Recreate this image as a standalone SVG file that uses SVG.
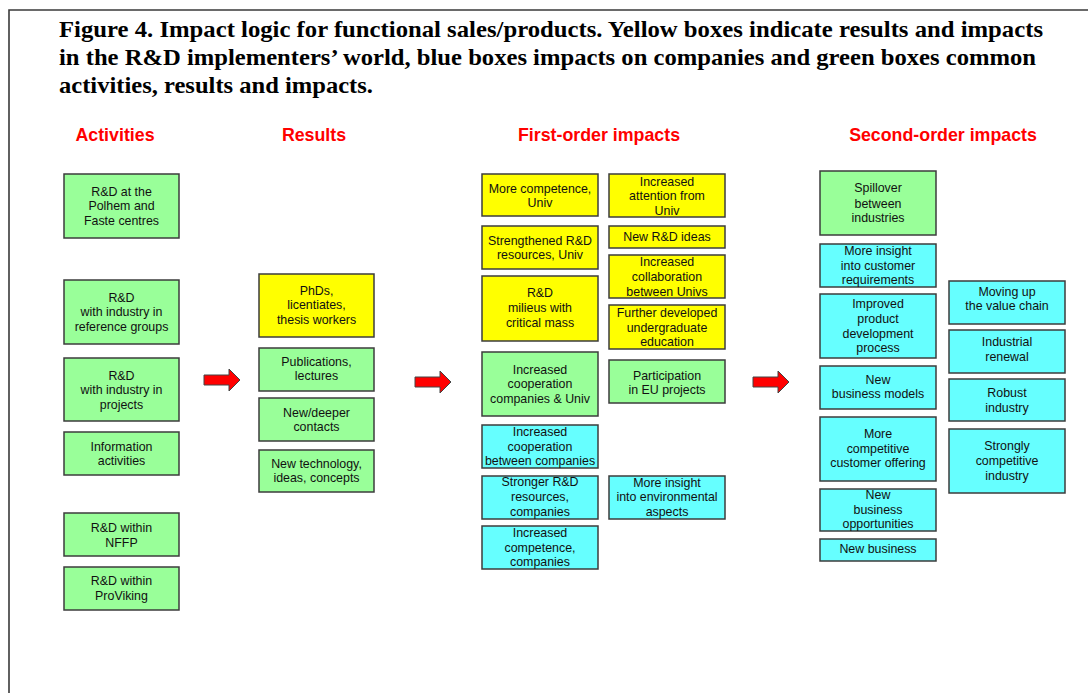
<svg xmlns="http://www.w3.org/2000/svg" width="1088" height="693" viewBox="0 0 1088 693">
  <style>
    .frame { fill: none; stroke: #3a3a3a; stroke-width: 1.6; }
    .title { font-family: "Liberation Serif", "Times New Roman", serif; font-weight: bold; font-size: 23.5px; fill: #000; }
    .head { font-family: "Liberation Sans", Arial, sans-serif; font-weight: bold; font-size: 17.8px; fill: #ff0000; text-anchor: middle; }
    .box { stroke: #3c3c3c; stroke-width: 1.5; }
    .g { fill: #99ff99; }
    .y { fill: #ffff00; }
    .c { fill: #66ffff; }
    .lbl { font-family: "Liberation Sans", Arial, sans-serif; font-size: 12.4px; fill: #111; text-anchor: middle; }
    .arrow { fill: #ff0000; stroke: #444; stroke-width: 1; }
  </style>
  <defs>
    <path id="bigArrow" d="M0,6 H25 V0 L36,11 L25,22 V16 H0 Z"/>
  </defs>
  <rect width="1088" height="693" fill="#fff"/>
  <path class="frame" d="M9,693 V10 H1088"/>

  <!-- caption -->
  <text class="title" x="59" y="37" textLength="984" lengthAdjust="spacingAndGlyphs">Figure 4. Impact logic for functional sales/products. Yellow boxes indicate results and impacts</text>
  <text class="title" x="59" y="65" textLength="977" lengthAdjust="spacingAndGlyphs">in the R&amp;D implementers’ world, blue boxes impacts on companies and green boxes common</text>
  <text class="title" x="59" y="93" textLength="314" lengthAdjust="spacingAndGlyphs">activities, results and impacts.</text>

  <!-- column headings -->
  <text class="head" x="115" y="141">Activities</text>
  <text class="head" x="314" y="141">Results</text>
  <text class="head" x="599" y="141">First-order impacts</text>
  <text class="head" x="943" y="141">Second-order impacts</text>

  <!-- connectors between columns -->
  <g id="connectors">
    <use href="#bigArrow" class="arrow" x="204" y="369"/>
    <use href="#bigArrow" class="arrow" x="415" y="371"/>
    <use href="#bigArrow" class="arrow" x="753" y="371"/>
  </g>

  <!-- Activities -->
  <g id="act-polhem"><rect class="box g" x="64" y="174" width="115" height="64"/>
    <text class="lbl"><tspan x="121.5" y="196">R&amp;D at the</tspan><tspan x="121.5" y="210">Polhem and</tspan><tspan x="121.5" y="225">Faste centres</tspan></text></g>
  <g id="act-refgroups"><rect class="box g" x="64" y="280" width="115" height="64"/>
    <text class="lbl"><tspan x="121.5" y="302">R&amp;D</tspan><tspan x="121.5" y="316">with industry in</tspan><tspan x="121.5" y="331">reference groups</tspan></text></g>
  <g id="act-projects"><rect class="box g" x="64" y="358" width="115" height="63"/>
    <text class="lbl"><tspan x="121.5" y="380">R&amp;D</tspan><tspan x="121.5" y="394">with industry in</tspan><tspan x="121.5" y="409">projects</tspan></text></g>
  <g id="act-info"><rect class="box g" x="64" y="432" width="115" height="43"/>
    <text class="lbl"><tspan x="121.5" y="451">Information</tspan><tspan x="121.5" y="465">activities</tspan></text></g>
  <g id="act-nffp"><rect class="box g" x="64" y="513" width="115" height="43"/>
    <text class="lbl"><tspan x="121.5" y="532">R&amp;D within</tspan><tspan x="121.5" y="547">NFFP</tspan></text></g>
  <g id="act-proviking"><rect class="box g" x="64" y="567" width="115" height="43"/>
    <text class="lbl"><tspan x="121.5" y="585">R&amp;D within</tspan><tspan x="121.5" y="600">ProViking</tspan></text></g>

  <!-- Results -->
  <g id="res-phds"><rect class="box y" x="259" y="274" width="115" height="63"/>
    <text class="lbl"><tspan x="316.5" y="295">PhDs,</tspan><tspan x="316.5" y="309">licentiates,</tspan><tspan x="316.5" y="324">thesis workers</tspan></text></g>
  <g id="res-publications"><rect class="box g" x="259" y="348" width="115" height="43"/>
    <text class="lbl"><tspan x="316.5" y="366">Publications,</tspan><tspan x="316.5" y="380">lectures</tspan></text></g>
  <g id="res-contacts"><rect class="box g" x="259" y="398" width="115" height="43"/>
    <text class="lbl"><tspan x="316.5" y="417">New/deeper</tspan><tspan x="316.5" y="431">contacts</tspan></text></g>
  <g id="res-technology"><rect class="box g" x="259" y="450" width="115" height="42"/>
    <text class="lbl"><tspan x="316.5" y="468">New technology,</tspan><tspan x="316.5" y="482">ideas, concepts</tspan></text></g>

  <!-- First-order impacts, left column -->
  <g id="fo-competence-univ"><rect class="box y" x="482" y="174" width="116" height="42"/>
    <text class="lbl"><tspan x="540" y="193">More competence,</tspan><tspan x="540" y="207">Univ</tspan></text></g>
  <g id="fo-resources-univ"><rect class="box y" x="482" y="226" width="116" height="43"/>
    <text class="lbl"><tspan x="540" y="245">Strengthened R&amp;D</tspan><tspan x="540" y="259">resources, Univ</tspan></text></g>
  <g id="fo-milieus"><rect class="box y" x="482" y="276" width="116" height="65"/>
    <text class="lbl"><tspan x="540" y="297">R&amp;D</tspan><tspan x="540" y="312">milieus with</tspan><tspan x="540" y="327">critical mass</tspan></text></g>
  <g id="fo-coop-comp-univ"><rect class="box g" x="482" y="352" width="116" height="64"/>
    <text class="lbl"><tspan x="540" y="374">Increased</tspan><tspan x="540" y="388">cooperation</tspan><tspan x="540" y="403">companies &amp; Univ</tspan></text></g>
  <g id="fo-coop-companies"><rect class="box c" x="482" y="425" width="116" height="43"/>
    <text class="lbl"><tspan x="540" y="436">Increased</tspan><tspan x="540" y="451">cooperation</tspan><tspan x="540" y="465">between companies</tspan></text></g>
  <g id="fo-resources-comp"><rect class="box c" x="482" y="476" width="116" height="43"/>
    <text class="lbl"><tspan x="540" y="486">Stronger R&amp;D</tspan><tspan x="540" y="501">resources,</tspan><tspan x="540" y="516">companies</tspan></text></g>
  <g id="fo-competence-comp"><rect class="box c" x="482" y="526" width="116" height="43"/>
    <text class="lbl"><tspan x="540" y="537">Increased</tspan><tspan x="540" y="552">competence,</tspan><tspan x="540" y="566">companies</tspan></text></g>

  <!-- First-order impacts, right column -->
  <g id="fo-attention"><rect class="box y" x="609" y="174" width="116" height="43"/>
    <text class="lbl"><tspan x="667" y="186">Increased</tspan><tspan x="667" y="200">attention from</tspan><tspan x="667" y="215">Univ</tspan></text></g>
  <g id="fo-ideas"><rect class="box y" x="609" y="226" width="116" height="22"/>
    <text class="lbl"><tspan x="667" y="241">New R&amp;D ideas</tspan></text></g>
  <g id="fo-collaboration"><rect class="box y" x="609" y="255" width="116" height="43"/>
    <text class="lbl"><tspan x="667" y="266">Increased</tspan><tspan x="667" y="281">collaboration</tspan><tspan x="667" y="296">between Univs</tspan></text></g>
  <g id="fo-education"><rect class="box y" x="609" y="305" width="116" height="44"/>
    <text class="lbl"><tspan x="667" y="317">Further developed</tspan><tspan x="667" y="332">undergraduate</tspan><tspan x="667" y="346">education</tspan></text></g>
  <g id="fo-eu"><rect class="box g" x="609" y="360" width="116" height="43"/>
    <text class="lbl"><tspan x="667" y="380">Participation</tspan><tspan x="667" y="394">in EU projects</tspan></text></g>
  <g id="fo-environment"><rect class="box c" x="609" y="476" width="116" height="43"/>
    <text class="lbl"><tspan x="667" y="487">More insight</tspan><tspan x="667" y="501">into environmental</tspan><tspan x="667" y="516">aspects</tspan></text></g>

  <!-- Second-order impacts, left column -->
  <g id="so-spillover"><rect class="box g" x="820" y="171" width="116" height="64"/>
    <text class="lbl"><tspan x="878" y="192">Spillover</tspan><tspan x="878" y="208">between</tspan><tspan x="878" y="222">industries</tspan></text></g>
  <g id="so-customer-req"><rect class="box c" x="820" y="244" width="116" height="43"/>
    <text class="lbl"><tspan x="878" y="255">More insight</tspan><tspan x="878" y="270">into customer</tspan><tspan x="878" y="284">requirements</tspan></text></g>
  <g id="so-product-dev"><rect class="box c" x="820" y="294" width="116" height="64"/>
    <text class="lbl"><tspan x="878" y="308">Improved</tspan><tspan x="878" y="323">product</tspan><tspan x="878" y="338">development</tspan><tspan x="878" y="352">process</tspan></text></g>
  <g id="so-business-models"><rect class="box c" x="820" y="366" width="116" height="43"/>
    <text class="lbl"><tspan x="878" y="384">New</tspan><tspan x="878" y="398">business models</tspan></text></g>
  <g id="so-offering"><rect class="box c" x="820" y="417" width="116" height="64"/>
    <text class="lbl"><tspan x="878" y="438">More</tspan><tspan x="878" y="453">competitive</tspan><tspan x="878" y="467">customer offering</tspan></text></g>
  <g id="so-opportunities"><rect class="box c" x="820" y="489" width="116" height="42"/>
    <text class="lbl"><tspan x="878" y="499">New</tspan><tspan x="878" y="514">business</tspan><tspan x="878" y="528">opportunities</tspan></text></g>
  <g id="so-new-business"><rect class="box c" x="820" y="539" width="116" height="22"/>
    <text class="lbl"><tspan x="878" y="553">New business</tspan></text></g>

  <!-- Second-order impacts, right column -->
  <g id="so-value-chain"><rect class="box c" x="949" y="281" width="116" height="43"/>
    <text class="lbl"><tspan x="1007" y="296">Moving up</tspan><tspan x="1007" y="310">the value chain</tspan></text></g>
  <g id="so-renewal"><rect class="box c" x="949" y="330" width="116" height="43"/>
    <text class="lbl"><tspan x="1007" y="346">Industrial</tspan><tspan x="1007" y="361">renewal</tspan></text></g>
  <g id="so-robust"><rect class="box c" x="949" y="379" width="116" height="42"/>
    <text class="lbl"><tspan x="1007" y="397">Robust</tspan><tspan x="1007" y="412">industry</tspan></text></g>
  <g id="so-competitive"><rect class="box c" x="949" y="429" width="116" height="64"/>
    <text class="lbl"><tspan x="1007" y="450">Strongly</tspan><tspan x="1007" y="465">competitive</tspan><tspan x="1007" y="480">industry</tspan></text></g>
</svg>
